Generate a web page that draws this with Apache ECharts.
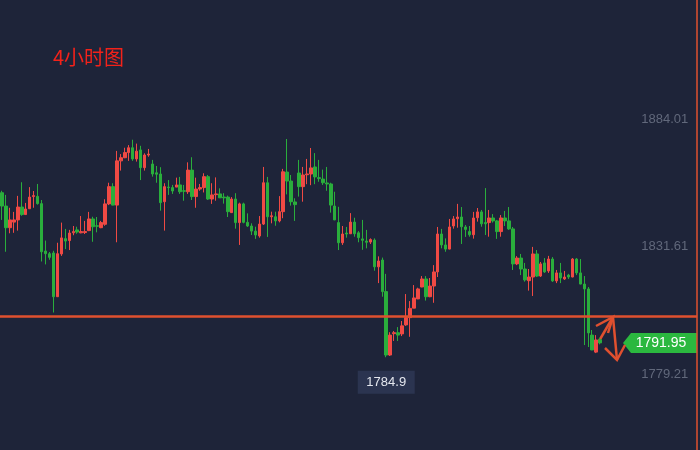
<!DOCTYPE html>
<html><head><meta charset="utf-8">
<script src="https://cdn.jsdelivr.net/npm/echarts@6/dist/echarts.min.js"></script>
<style>html,body{margin:0;padding:0;background:#1e2439;}#c{width:700px;height:450px;}</style>
</head><body><div id="c"></div>
<script>
// [open, close, low, high] — 4-hour candles
const ohlc = [
[1853.8,1848.3,1842.6,1854.6],[1848.3,1839.4,1829.5,1852.9],[1839.4,1842.6,1837.1,1847.6],[1841.7,1842.6,1837.3,1845.9],
[1842.6,1847.9,1838.2,1852.5],[1847.9,1844.8,1844.3,1858.1],[1844.8,1847.1,1844.7,1849.6],[1847.2,1852.0,1847.1,1856.1],
[1852.2,1852.6,1847.6,1854.5],[1852.3,1849.3,1848.9,1857.4],[1849.3,1829.5,1825.5,1850.8],[1829.8,1828.7,1824.3,1834.1],
[1828.7,1827.2,1826.2,1829.4],[1829.0,1811.0,1804.5,1829.9],[1811.0,1828.7,1810.9,1833.2],[1828.6,1835.2,1827.8,1841.5],
[1834.9,1833.9,1830.6,1838.9],[1834.1,1837.2,1830.2,1838.5],[1837.3,1837.8,1836.3,1840.1],[1838.5,1837.6,1836.9,1839.8],
[1837.3,1837.8,1837.1,1844.2],[1837.4,1837.8,1836.8,1842.2],[1838.2,1843.0,1838.0,1845.9],[1843.0,1839.8,1833.6,1843.9],
[1840.2,1840.0,1837.5,1843.8],[1839.4,1841.5,1839.2,1842.2],[1840.8,1849.2,1840.2,1851.1],[1849.2,1856.3,1848.7,1857.9],
[1856.3,1848.7,1848.6,1857.7],[1848.7,1866.9,1833.4,1871.0],[1866.9,1868.2,1862.9,1869.7],[1868.2,1870.3,1868.0,1872.3],
[1870.3,1872.3,1866.9,1873.4],[1872.3,1867.7,1866.9,1875.6],[1867.7,1870.9,1866.6,1874.0],[1871.4,1864.1,1859.0,1873.1],
[1864.1,1869.3,1862.9,1870.0],[1869.3,1869.7,1868.6,1871.8],[1865.6,1861.5,1860.4,1867.3],[1862.0,1861.4,1857.9,1864.8],
[1861.5,1849.7,1846.4,1864.3],[1850.1,1856.3,1838.2,1857.7],[1856.1,1855.9,1852.9,1859.0],[1855.9,1854.5,1853.3,1857.0],
[1856.1,1857.0,1856.1,1860.0],[1857.0,1854.2,1853.3,1860.3],[1854.6,1854.4,1850.5,1857.0],[1854.2,1863.1,1853.3,1866.3],
[1863.1,1852.2,1850.8,1868.4],[1852.2,1855.3,1847.6,1860.0],[1855.3,1855.9,1854.6,1857.4],[1855.9,1860.4,1853.9,1861.8],
[1860.4,1851.2,1850.8,1861.1],[1851.2,1852.9,1849.2,1857.7],[1853.0,1853.3,1850.5,1860.1],[1853.3,1851.7,1851.7,1855.6],
[1852.0,1851.7,1849.3,1853.6],[1852.0,1846.0,1843.8,1852.6],[1845.6,1851.2,1845.5,1852.0],[1851.2,1841.5,1839.0,1853.6],
[1841.5,1849.2,1832.3,1849.7],[1849.2,1841.6,1841.2,1849.7],[1841.6,1840.1,1839.7,1845.3],[1840.1,1838.0,1836.4,1841.2],
[1838.0,1836.4,1834.8,1839.8],[1836.0,1840.9,1835.3,1844.2],[1840.9,1857.9,1840.5,1864.4],[1857.9,1843.9,1835.6,1860.3],
[1843.9,1844.3,1841.2,1846.0],[1843.9,1842.2,1840.2,1846.0],[1842.2,1846.0,1841.6,1852.4],[1846.0,1862.4,1843.3,1863.6],
[1862.3,1858.6,1853.1,1875.9],[1858.6,1850.1,1848.5,1861.1],[1850.0,1848.9,1842.2,1851.5],[1861.9,1856.3,1852.2,1867.3],
[1856.3,1861.1,1850.1,1864.4],[1861.2,1861.5,1857.3,1867.7],[1861.5,1864.0,1856.9,1872.2],[1864.4,1860.3,1857.3,1870.1],
[1860.0,1859.6,1858.3,1867.3],[1859.4,1857.9,1857.0,1863.3],[1857.8,1857.4,1854.6,1864.4],[1857.4,1848.7,1845.6,1857.9],
[1848.3,1842.6,1842.5,1854.2],[1841.5,1833.2,1830.2,1848.0],[1833.2,1836.8,1832.3,1840.1],[1837.2,1836.8,1835.3,1839.7],
[1836.9,1841.7,1836.8,1845.4],[1841.7,1836.9,1835.7,1843.5],[1837.3,1835.3,1833.4,1838.0],[1834.8,1834.2,1830.3,1842.6],
[1833.9,1833.4,1830.9,1838.5],[1833.5,1834.5,1832.7,1835.0],[1834.3,1823.3,1821.7,1835.0],[1823.3,1825.7,1816.6,1827.6],
[1826.1,1813.1,1811.0,1827.1],[1813.1,1787.0,1786.1,1820.4],[1787.0,1795.2,1786.6,1796.4],[1795.8,1796.2,1792.8,1796.9],
[1796.2,1795.2,1792.8,1798.5],[1795.7,1799.0,1794.8,1801.0],[1799.4,1802.4,1799.0,1812.1],[1802.4,1806.2,1794.5,1809.2],
[1806.3,1810.5,1806.3,1815.8],[1810.1,1814.2,1810.0,1814.7],[1815.0,1818.3,1814.9,1819.5],[1818.3,1811.0,1809.4,1819.5],
[1811.0,1815.4,1810.8,1818.7],[1815.4,1821.2,1808.5,1824.0],[1821.2,1836.8,1819.1,1839.7],[1836.8,1832.3,1830.9,1838.9],
[1832.3,1830.6,1829.5,1835.0],[1830.6,1839.7,1830.5,1843.0],[1840.1,1843.0,1839.0,1844.2],[1843.1,1843.8,1839.4,1849.2],
[1843.8,1839.8,1832.7,1847.9],[1839.7,1838.7,1835.6,1840.5],[1837.8,1836.5,1835.7,1840.1],[1836.5,1843.4,1834.9,1845.9],
[1843.5,1845.9,1841.9,1847.5],[1845.9,1841.0,1839.8,1846.7],[1841.5,1841.0,1836.4,1855.7],[1841.5,1843.4,1835.7,1846.7],
[1843.4,1842.2,1841.5,1845.0],[1842.2,1837.8,1834.8,1842.6],[1837.8,1843.4,1835.7,1844.6],[1843.4,1842.2,1840.1,1846.3],
[1842.2,1838.9,1838.5,1847.9],[1838.9,1824.5,1822.0,1839.7],[1824.5,1826.9,1824.0,1827.7],[1826.9,1822.4,1819.9,1828.6],
[1822.4,1817.9,1817.2,1824.9],[1817.6,1819.1,1813.5,1822.4],[1819.1,1828.6,1811.3,1831.5],[1828.6,1819.5,1819.1,1830.2],
[1819.5,1824.5,1819.1,1825.3],[1824.9,1821.2,1820.8,1826.9],[1821.6,1826.5,1820.8,1827.8],[1826.5,1817.5,1817.1,1827.3],
[1817.5,1820.8,1816.6,1822.0],[1820.8,1818.7,1816.6,1824.9],[1818.3,1819.1,1817.9,1821.6],[1819.9,1819.1,1818.3,1820.4],
[1819.1,1826.5,1819.0,1826.9],[1826.5,1820.8,1819.9,1826.9],[1820.8,1816.2,1816.1,1826.5],[1816.2,1814.2,1791.1,1819.5],
[1814.2,1796.1,1790.3,1815.0],[1795.2,1789.1,1789.0,1797.3],[1788.2,1793.2,1787.8,1795.2],[1793.3,1792.0,1791.4,1794.0]
];
const emptySlots = 24;               // blank space right of the last candle
const categories = ohlc.map((_, i) => String(i)).concat(new Array(emptySlots).fill(''));
const tickValues = [1884.01, 1831.61, 1779.21];
const yMin = 1747.92, yMax = 1933.10;
const levelLine = 1802.86;           // drawn horizontal level
const lastPrice = 1791.95;
const lowIndex = 97, lowLabel = '1784.9';
const titleText = '4小时图';

const UP = '#f04a44', DOWN = '#2aae3c', ORANGE = '#e0502f';
const chart = echarts.init(document.getElementById('c'), null, {renderer: 'canvas'});
chart.setOption({
  backgroundColor: '#1e2439',
  animation: false,
  title: {text: titleText, left: 48, top: 42, textStyle: {color: '#f3221a', fontSize: 20, fontWeight: 'normal', fontFamily: 'Noto Sans CJK SC'}},
  grid: {left: -0.65, right: 2.8, top: 0, bottom: 0},
  xAxis: {type: 'category', data: categories, boundaryGap: true, show: false},
  yAxis: {
    type: 'value', position: 'right', min: yMin, max: yMax, scale: true,
    axisLine: {show: true, lineStyle: {color: ORANGE, width: 1.5}},
    axisTick: {show: false}, splitLine: {show: false},
    axisLabel: {inside: true, margin: 9, customValues: tickValues, color: '#61687b', fontSize: 13, fontFamily: 'Liberation Sans',
      formatter: v => v.toFixed(2)}
  },
  series: [{
    type: 'candlestick', data: ohlc, barWidth: 3,
    itemStyle: {color: UP, color0: DOWN, borderColor: UP, borderColor0: DOWN, borderWidth: 1},
    markLine: {silent: true, symbol: ['none', 'none'], label: {show: false},
      lineStyle: {color: ORANGE, width: 2.6, type: 'solid'}, data: [{yAxis: levelLine}]},
    markPoint: {
      symbol: 'rect', symbolSize: [57, 23], symbolOffset: [0, 25],
      itemStyle: {color: '#2b3450'},
      label: {show: true, color: '#e4e7ee', fontSize: 13, fontFamily: 'Liberation Sans', formatter: () => lowLabel},
      data: [{coord: [lowIndex, ohlc[lowIndex][2]]}]
    }
  }]
});
const yp = chart.convertToPixel({yAxisIndex: 0}, lastPrice);
chart.setOption({graphic: [
  {type: 'polygon', shape: {points: [[623, yp], [631, yp - 10], [697, yp - 10], [697, yp + 10], [631, yp + 10]]}, style: {fill: '#2bb83f'}},
  {type: 'text', x: 661, y: yp, style: {text: lastPrice.toFixed(2), fill: '#ffffff', font: '14px "Liberation Sans"', align: 'center', verticalAlign: 'middle'}},
  {type: 'polyline', shape: {points: [[599, 341], [613, 317]]}, style: {stroke: ORANGE, lineWidth: 2.5, fill: null}},
  {type: 'polyline', shape: {points: [[596, 326], [613, 317], [608, 333]]}, style: {stroke: ORANGE, lineWidth: 2.5, fill: null}},
  {type: 'polyline', shape: {points: [[613, 317], [617, 360]]}, style: {stroke: ORANGE, lineWidth: 2.5, fill: null}},
  {type: 'polyline', shape: {points: [[605, 348], [617, 360], [625, 345]]}, style: {stroke: ORANGE, lineWidth: 2.5, fill: null}}
]});
</script></body></html>
